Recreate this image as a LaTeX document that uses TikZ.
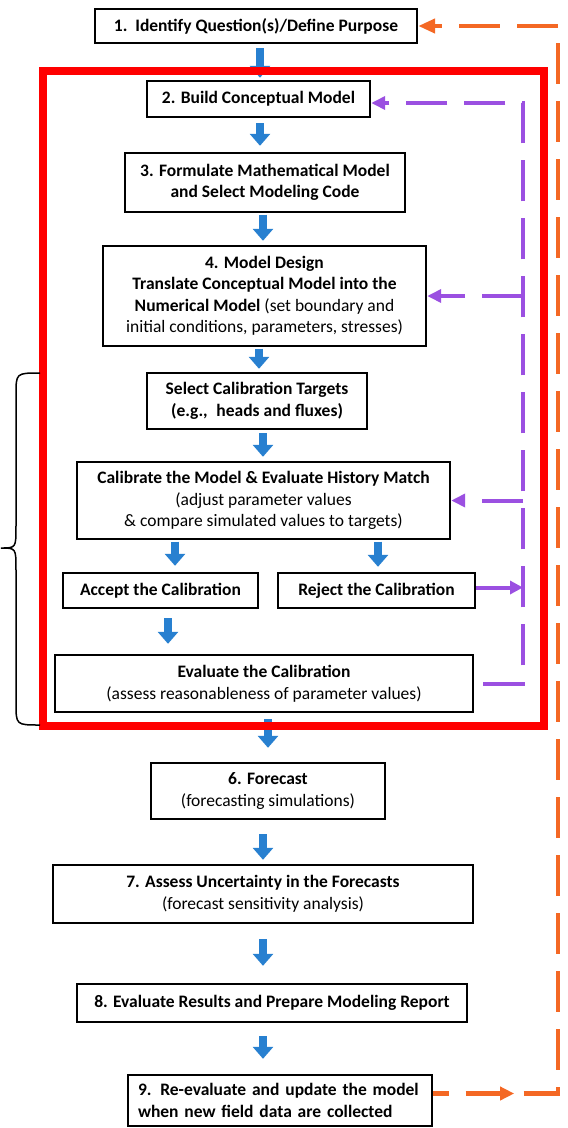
\documentclass[tikz,border=0pt]{standalone}
\usepackage{fontspec}
\setmainfont{Carlito}
\usetikzlibrary{arrows.meta,decorations.markings}

\definecolor{flowblue}{RGB}{40,128,208}
\definecolor{loopviolet}{RGB}{155,80,225}
\definecolor{feedorange}{RGB}{244,104,36}
\definecolor{framered}{RGB}{255,0,0}

\begin{document}
\begin{tikzpicture}[x=1pt,y=-1pt,
  box/.style={draw=black, line width=2.4pt, fill=white, inner sep=0pt,
    align=center, font=\fontsize{17.5}{21.5}\selectfont},
  barrow/.style={draw=flowblue, line width=8pt,
    -{Triangle[length=12pt,width=20pt]}},
  vloop/.style={draw=loopviolet, line width=4pt,
    dash pattern=on 41pt off 17pt, -{Triangle[length=14pt,width=13pt]}},
  vsolid/.style={draw=loopviolet, line width=4pt,
    -{Triangle[length=13pt,width=13pt]}},
  oloop/.style={draw=feedorange, line width=4.5pt,
    dash pattern=on 41pt off 17pt, -{Triangle[length=17pt,width=14pt]}},
  frameline/.style={draw=framered, line width=8pt},
  bracket/.style={draw=black, line width=1.5pt}
]
\useasboundingbox (0,0) rectangle (568,1128);

% process steps
\node[box, minimum width=322pt, minimum height=34pt] (b1) at (256,26)
  {\textbf{1.\hspace{0.45em}Identify Question(s)/Define Purpose}};
\node[box, minimum width=223pt, minimum height=36pt] (b2) at (258.5,99)
  {\textbf{2. Build Conceptual Model}};
\node[box, minimum width=280pt, minimum height=59pt] (b3) at (265,182.5)
  {\textbf{3. Formulate Mathematical Model}\\\textbf{and Select Modeling Code}};
\node[box, minimum width=323pt, minimum height=100pt] (b4) at (264.5,296)
  {\textbf{4. Model Design}\\\textbf{Translate Conceptual Model into the}\\
   \textbf{Numerical Model} (set boundary and\\initial conditions, parameters, stresses)};
\node[box, minimum width=220pt, minimum height=56pt] (sel) at (257,401)
  {\textbf{Select Calibration Targets}\\\textbf{(e.g.,\hspace{0.5em}heads and fluxes)}};
\node[box, minimum width=373pt, minimum height=77pt] (cal) at (263.5,500.5)
  {\textbf{Calibrate the Model \& Evaluate History Match}\\(adjust parameter values\\
   \& compare simulated values to targets)};
\node[box, minimum width=195pt, minimum height=35pt] (acc) at (160.5,590.5)
  {\textbf{Accept the Calibration}};
\node[box, minimum width=197pt, minimum height=35pt] (rej) at (376.5,590.5)
  {\textbf{Reject the Calibration}};
\node[box, minimum width=418pt, minimum height=57pt] (ev) at (264,683.5)
  {\textbf{Evaluate the Calibration}\\(assess reasonableness of parameter values)};
\node[box, minimum width=234pt, minimum height=56pt] (fc) at (268,791)
  {\textbf{6. Forecast}\\(forecasting simulations)};
\node[box, minimum width=420pt, minimum height=58pt] (as) at (263,894)
  {\textbf{7. Assess Uncertainty in the Forecasts}\\(forecast sensitivity analysis)};
\node[box, minimum width=390pt, minimum height=38pt] (b8) at (272,1003)
  {\textbf{8. Evaluate Results and Prepare Modeling Report}};
\node[box, minimum width=304pt, minimum height=51pt, align=left, text width=284pt] (b9) at (280,1100.5)
  {\textbf{9. Re-evaluate and update the model}\\\textbf{when new field data are collected}};

% main flow arrows
\draw[barrow, shorten <=4pt, shorten >=2pt] ([xshift=4pt]b1.south) -- ([xshift=4pt]b1.south |- b2.north);
\draw[barrow, shorten <=5pt, shorten >=6pt] ([xshift=1.5pt]b2.south) -- ([xshift=1.5pt]b2.south |- b3.north);
\draw[barrow, shorten <=1.5pt, shorten >=4pt] ([xshift=-2pt]b3.south) -- ([xshift=-2pt]b3.south |- b4.north);
\draw[barrow, shorten <=1.5pt, shorten >=3pt] ([xshift=-5.5pt]b4.south) -- ([xshift=-5.5pt]b4.south |- sel.north);
\draw[barrow, shorten <=3pt, shorten >=4pt] ([xshift=6pt]sel.south) -- ([xshift=6pt]sel.south |- cal.north);
\draw[barrow, shorten <=1.5pt, shorten >=6pt] ([xshift=14.5pt]acc.north |- cal.south) -- ([xshift=14.5pt]acc.north);
\draw[barrow, shorten <=1.5pt, shorten >=5pt] ([xshift=1.5pt]rej.north |- cal.south) -- ([xshift=1.5pt]rej.north);
\draw[barrow, shorten <=9pt, shorten >=10pt] ([xshift=7.5pt]acc.south) -- ([xshift=7.5pt]acc.south |- ev.north);
\draw[barrow, shorten <=6pt, shorten >=14pt] ([xshift=4pt]ev.south) -- ([xshift=4pt]ev.south |- fc.north);
\draw[barrow, shorten <=14pt, shorten >=4pt] ([xshift=-5pt]fc.south) -- ([xshift=-5pt]fc.south |- as.north);
\draw[barrow, shorten <=15pt, shorten >=17pt] (as.south) -- (as.south |- b8.north);
\draw[barrow, shorten <=13pt, shorten >=15pt] ([xshift=-9pt]b8.south) -- ([xshift=-9pt]b8.south |- b9.north);

% calibration frame and its brace
\coordinate (fr1) at (43,71);
\coordinate (fr2) at (544,726);
\draw[frameline] (fr1) rectangle (fr2);
\draw[bracket] (40,373) .. controls (16,373) .. (16,395) -- (16,526)
  .. controls (16,548) .. (1,548) .. controls (16,548) .. (16,570)
  -- (16,703) .. controls (16,725) .. (40,725);

% calibration feedback loop
\coordinate (vx) at (523,0);
\coordinate (vtop) at ([yshift=-4pt]b2.east);
\draw[vloop, dash phase=49pt] (ev.east) -- (ev.east -| vx) -- (vtop -| vx) -- (vtop);
\draw[vloop] (b4.east -| vx) -- (b4.east);
\draw[vloop] (cal.east -| vx) -- (cal.east);
\draw[vsolid] ([yshift=3pt]rej.east) -- ([yshift=3pt]rej.east -| vx);

% model update loop
\coordinate (ox) at (558,0);
\draw[oloop, dash phase=25.5pt, postaction={decorate, decoration={markings,
    mark=at position 81pt with {\arrow{Triangle[length=14pt,width=13pt]}}}}]
  ([yshift=7pt]b9.east) -- ([yshift=7pt]b9.east -| ox) -- (b1.east -| ox) -- (b1.east);
\end{tikzpicture}
\end{document}
